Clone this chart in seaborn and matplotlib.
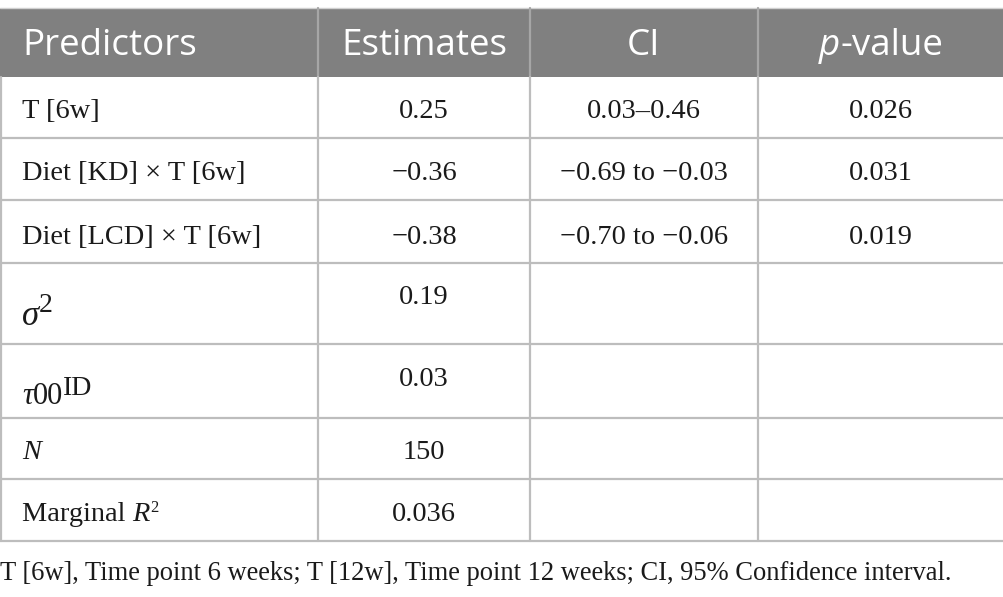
import matplotlib
matplotlib.use("Agg")
import matplotlib.pyplot as plt
import seaborn as sns

# Table content
headers = ["Predictors", "Estimates", "CI", "p-value"]
predictors = ["T [6w]", "Diet [KD] × T [6w]", "Diet [LCD] × T [6w]",
              "\u03c3\u00b2", "\u03c400ID", "N", "Marginal R\u00b2"]
estimates = ["0.25", "\u22120.36", "\u22120.38", "0.19", "0.03", "150", "0.036"]
ci = ["0.03\u20130.46", "\u22120.69 to \u22120.03", "\u22120.70 to \u22120.06", "", "", "", ""]
pvalues = ["0.026", "0.031", "0.019", "", "", "", ""]
caption = ("T [6w], Time point 6 weeks; T [12w], Time point 12 weeks; "
           "CI, 95% Confidence interval.")

# Layout (pixel units)
col_edges = [0, 318, 530, 758, 1004]
row_edges = [8, 77, 138, 200, 263, 344, 418, 479, 541]
value_lift = [19.5, 19.5, 19.5, 40, 32, 20, 20]
label_lift = [19.5, 19.5, 19.5, 19, 14, 20, 20]
body = 20.4

# rich-text pieces for labels that mix styles: (text, style, size, raise)
label_runs = {
    3: [("\u03c3", "italic", 25, 0), ("2", "normal", 20, 13)],
    4: [("\u03c4", "italic", 22, 0), ("00", "normal", 22, 0), ("ID", "normal", 20, 9)],
    5: [("N", "italic", body, 0)],
    6: [("Marginal ", "normal", body, 0), ("R", "italic", body, 0), ("2", "normal", 12, 9)],
}

sns.set_style("white")

fig = plt.figure(figsize=(10.04, 5.97), dpi=100)
ax = fig.add_axes([0, 0, 1, 1])
ax.set_xlim(0, 1004)
ax.set_ylim(597, 0)
ax.axis("off")
renderer = fig.canvas.get_renderer()

header_color = "#808080"
grid_color = "#bdbdbd"
ink = "#1a1a1a"
serif = "Liberation Serif"
sans = "Open Sans"

# header band
ax.fill_between([col_edges[0], col_edges[-1]], row_edges[0], row_edges[1],
                color=header_color, lw=0)
ax.plot([0, 1004], [row_edges[0], row_edges[0]], color="#d0d0d0", lw=1)

# grid lines
for y in row_edges[2:]:
    ax.plot([0, 1004], [y, y], color=grid_color, lw=1.6, solid_capstyle="butt")
for x in col_edges[1:-1]:
    ax.plot([x, x], [row_edges[0], row_edges[1]], color="#a6a6a6", lw=1.6)
    ax.plot([x, x], [row_edges[1], row_edges[-1]], color=grid_color, lw=1.6)
ax.plot([0.8, 0.8], [row_edges[1], row_edges[-1]], color=grid_color, lw=1.6)

centers = [(col_edges[i] + col_edges[i + 1]) / 2 for i in range(4)]
hdr_base = row_edges[1] - 22


def runs_text(x, y, runs, align="center", **kw):
    # text made of pieces with different styles, sizes and raises
    items = []
    for s, style, size, lift in runs:
        t = ax.text(0, y - lift, s, style=style, fontsize=size,
                    va="baseline", ha="left", **kw)
        items.append((t, t.get_window_extent(renderer=renderer).width))
    start = x - sum(w for _, w in items) / 2 if align == "center" else x
    for t, w in items:
        t.set_x(start)
        start += w


ax.text(22, hdr_base, headers[0], color="white", fontsize=26.5, family=sans, va="baseline")
ax.text(centers[1], hdr_base, headers[1], color="white", fontsize=26.5, family=sans,
        ha="center", va="baseline")
ax.text(centers[2], hdr_base, headers[2], color="white", fontsize=26.5, family=sans,
        ha="center", va="baseline")
runs_text(centers[3], hdr_base, [("p", "italic", 26.5, 0), ("-value", "normal", 26.5, 0)],
          color="white", family=sans)

for i in range(len(predictors)):
    bottom = row_edges[i + 2]
    if i in label_runs:
        runs_text(22, bottom - label_lift[i], label_runs[i], align="left",
                  family=serif, color=ink)
    else:
        ax.text(22, bottom - label_lift[i], predictors[i], fontsize=body,
                family=serif, va="baseline", color=ink)
    yv = bottom - value_lift[i]
    for col, vals in zip([1, 2, 3], [estimates, ci, pvalues]):
        ax.text(centers[col], yv, vals[i], fontsize=body, family=serif,
                ha="center", va="baseline", color=ink)

ax.text(0, 580, caption, fontsize=19.1, family=serif, va="baseline", color=ink)

fig.savefig("out.png", dpi=100)
